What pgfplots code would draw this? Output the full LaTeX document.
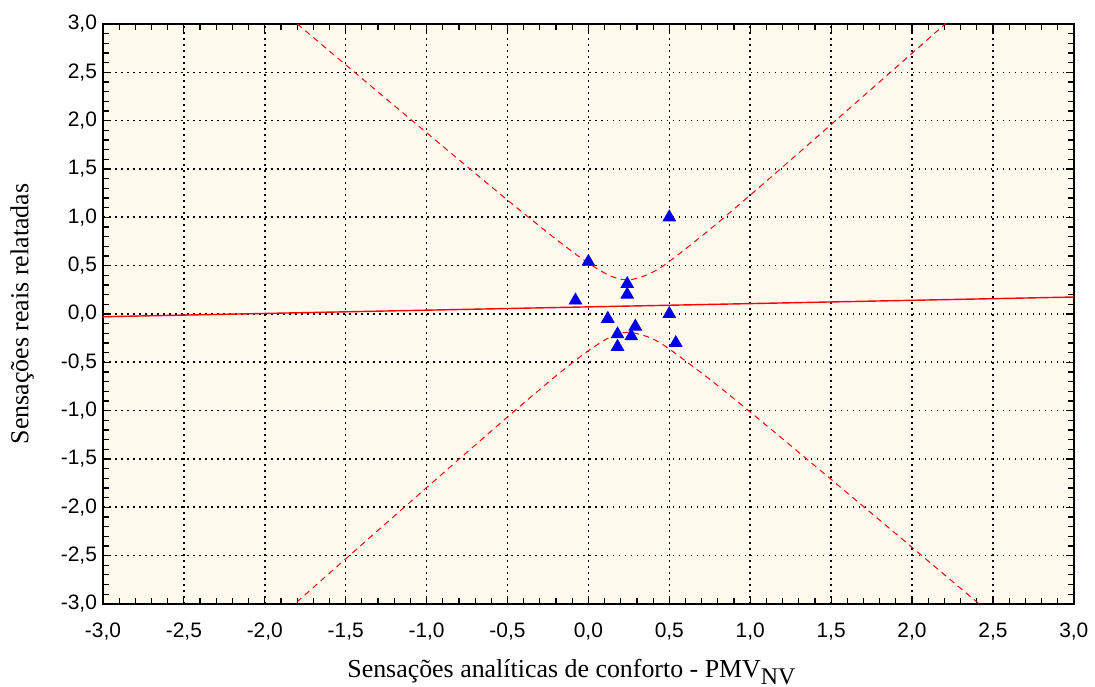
\documentclass[border=0pt]{standalone}
\usepackage{pgfplots}
\pgfplotsset{compat=1.18}
\usepackage{fontspec}
\setmainfont{Liberation Serif}
\newfontfamily\arial{Liberation Sans}
\definecolor{bgcream}{RGB}{255,250,237}
\definecolor{ptblue}{RGB}{0,0,230}

\begin{document}
\begin{tikzpicture}
\begin{axis}[
    scale only axis,
    width=485.5bp, height=290bp,
    xmin=-3, xmax=3, ymin=-3, ymax=3,
    xtick={-3,-2.5,...,3}, ytick={-3,-2.5,...,3},
    minor tick num=4,
    tick align=inside,
    major tick length=4bp, minor tick length=3bp,
    tick style={black, line width=0.6bp},
    axis line style={black, line width=0.9bp},
    grid=major,
    major grid style={black, line width=0.8bp, dash pattern=on 0.8bp off 2.2bp},
    axis background/.style={fill=bgcream},
    ticklabel style={font=\arial\fontsize{10.5}{12}\selectfont},
    /pgf/number format/.cd, fixed, fixed zerofill, precision=1, use comma, assume math mode=true,
    /pgfplots/.cd,
    xticklabel style={yshift=-6bp},
    yticklabel style={xshift=0.5bp},
    xlabel={Sensações analíticas de conforto - PMV\raisebox{-0.55ex}{\fontsize{12}{13}\selectfont NV}},
    ylabel={Sensações reais relatadas},
    label style={font=\fontsize{13}{15}\selectfont, inner sep=1bp},
    xlabel style={at={(axis description cs:0.4825,-0.1275)}, anchor=base},
    ylabel style={at={(axis description cs:-0.0768,0.5)}, anchor=base},
    clip=true,
]
% regression line
\addplot[red, line width=0.7bp] coordinates {(-3,-0.029) (3,0.175)};
% confidence bands
\addplot[red, line width=0.5bp, dash pattern=on 3bp off 2.3bp, smooth] coordinates {
(-1.9,3.143) (-1.8,3.002) (-1.5,2.578) (-1.25,2.226) (-1.0,1.875) (-0.75,1.525)
(-0.5,1.178) (-0.25,0.839) (-0.1,0.645) (0,0.526) (0.1,0.423) (0.175,0.370)
(0.25,0.352) (0.325,0.382) (0.4,0.434) (0.5,0.543) (0.75,0.873) (1.0,1.229)
(1.25,1.593) (1.5,1.960) (1.75,2.328) (2.0,2.697) (2.25,3.067) (2.35,3.21)};
\addplot[red, line width=0.5bp, dash pattern=on 3bp off 2.3bp, smooth] coordinates {
(-1.9,-3.126) (-1.8,-2.978) (-1.5,-2.534) (-1.25,-2.165) (-1.0,-1.797) (-0.75,-1.430)
(-0.5,-1.066) (-0.25,-0.710) (-0.1,-0.506) (0,-0.380) (0.1,-0.271) (0.175,-0.210)
(0.25,-0.189) (0.325,-0.215) (0.4,-0.260) (0.5,-0.363) (0.75,-0.676) (1.0,-1.015)
(1.25,-1.362) (1.5,-1.712) (1.75,-2.063) (2.0,-2.415) (2.25,-2.768) (2.5,-3.12)};
% observations
\addplot[only marks, mark=triangle*, mark size=3.6bp, color=ptblue] coordinates {
(0.50,1.00) (0.00,0.54) (0.24,0.31) (0.24,0.20) (-0.08,0.14) (0.50,0.00)
(0.12,-0.05) (0.29,-0.13) (0.18,-0.21) (0.265,-0.23) (0.18,-0.34) (0.54,-0.30)};
\end{axis}
\path ([yshift=12bp]current axis.north);
\path ([xshift=-51.5bp]current axis.west);
\path ([yshift=-41bp]current axis.south);
\end{tikzpicture}
\end{document}
